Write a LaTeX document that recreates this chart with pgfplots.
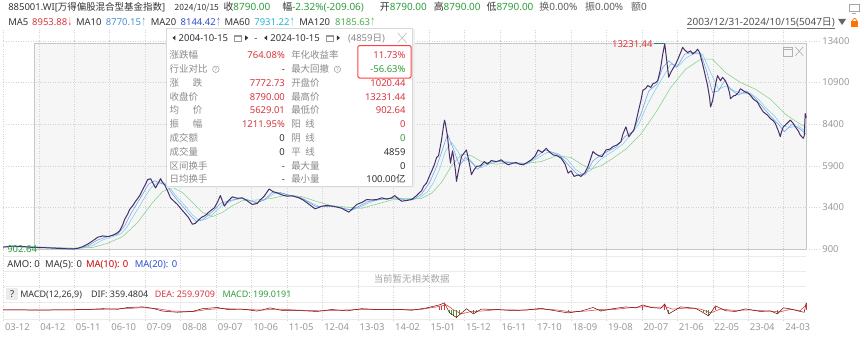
\documentclass[border=0pt]{standalone}
\usepackage{pgfplots}
\pgfplotsset{compat=1.18}
\usepackage{graphicx}
\usepackage{fontspec}
\setmainfont{Noto Sans}
\newfontfamily\cjk{Noto Sans CJK SC}
\newcommand\zh[1]{{\cjk #1}}
\newcommand\dnarr{\hspace{0.6pt}\scalebox{0.45}[0.95]{\cjk ↓}}
\newcommand\uparr{\hspace{0.6pt}\scalebox{0.45}[0.95]{\cjk ↑}}
\definecolor{txt}{HTML}{333333}
\definecolor{lbl}{HTML}{8A8A8A}
\definecolor{tickc}{HTML}{9A9A9A}
\definecolor{upred}{HTML}{D9363E}
\definecolor{dngreen}{HTML}{2E9E3E}
\definecolor{ma10c}{HTML}{4A90D9}
\definecolor{ma20c}{HTML}{2F4FD6}
\definecolor{ma60c}{HTML}{27B3D3}
\definecolor{ma120c}{HTML}{4CAF50}
\definecolor{gridc}{HTML}{D2D2D2}
\definecolor{boxfill}{HTML}{F6F6F6}
\definecolor{boxline}{HTML}{C6C6C6}
\definecolor{pricec}{HTML}{46306A}
\definecolor{ma20l}{HTML}{6E9BE8}
\definecolor{ma60l}{HTML}{7CCFE8}
\definecolor{ma120l}{HTML}{86D08A}
\definecolor{panelline}{HTML}{EBEBEB}
\newcommand\fs{\fontsize{9.5}{11}\selectfont}
\newcommand\fh{\fontsize{10}{12}\selectfont}
\pgfplotsset{
  pxaxis/.style={anchor=south west, scale only axis, width=806pt, xmin=0, xmax=806,
    axis line style={draw=none}, major tick length=0pt, scaled y ticks=false, scaled x ticks=false},
  xgridticks/.style={xtick={0.2,35.8,71.4,107,142.6,178.2,213.8,249.4,285,320.6,356.2,391.8,427.4,463,498.6,534.2,569.8,605.4,641,676.6,712.2,747.8,783.4}},
}
\begin{document}
\begin{tikzpicture}[x=1pt,y=1pt,
  t/.style={anchor=west, inner sep=0pt, text height=6.8pt, text depth=0pt, font=\fs},
  tr/.style={anchor=east, inner sep=0pt, text height=6.8pt, text depth=0pt, font=\fs},
  gridl/.style={gridc, line width=0.5pt, dash pattern=on 1pt off 1.5pt}]
\fill[white] (0pt,0pt) rectangle (865pt,338pt);
% lower panel horizontal lines
\foreach \yy in {81,66,51,35,18} {\draw[panelline, line width=0.5pt] (0pt,\yy pt) -- (806pt,\yy pt);}
% ---------------- selection box (background)
\begin{axis}[pxaxis, at={(0pt,88pt)}, height=209pt, ymin=900, ymax=13400, hide axis]
\fill[boxfill] (axis cs:31,902.64) rectangle (axis cs:806,13231.44);
\addplot[draw=none] coordinates {(0,900)};
\end{axis}
% ---------------- main price axis
\begin{axis}[pxaxis, at={(0pt,88pt)}, height=209pt,
  ymin=900, ymax=13400, clip=false, xgridticks, xticklabels={},
  ytick={900,3400,5900,8400,10900,13400},
  yticklabels={900,3400,5900,8400,10900,13400},
  yticklabel pos=right,
  yticklabel style={anchor=west, inner sep=0pt, xshift=16pt, font=\fs, text=tickc},
  xmajorgrids, ymajorgrids, grid style={gridl},
]
\draw[boxline, line width=0.7pt] (axis cs:31,902.64) rectangle (axis cs:806,13231.44);
\pgfplotsinvokeforeach{0.2,35.8,71.4,107,142.6,178.2,213.8,249.4,285,320.6,356.2,391.8,427.4,463,498.6,534.2,569.8,605.4,641,676.6,712.2,747.8,783.4}{\draw[gridl] (axis cs:#1,13400) -- ++(0pt,11pt);}
\pgfplotsinvokeforeach{900,3400,5900,8400,10900,13400}{\draw[gridl] (axis cs:806,#1) -- ++(14pt,0pt);}
% MA120
\addplot[ma120l, line width=0.55pt] coordinates {
(10,1050)(30,1040)(50,1000)(70,960)(90,1000)(105,1250)(120,1650)(135,2500)(150,3700)(160,4350)(170,4600)(180,4300)(190,3700)(200,3100)(210,2850)(220,3100)(230,3500)(240,3800)(255,3850)(270,3950)(285,4150)(300,4050)(315,3750)(330,3500)(345,3420)(360,3350)(375,3600)(390,3850)(405,3930)(420,3950)(430,4250)(440,4900)(450,5900)(460,6600)(470,6500)(480,6150)(495,6000)(510,6100)(525,6050)(540,6150)(555,6500)(570,6400)(580,6000)(590,5700)(600,5900)(612,6350)(625,6900)(640,7800)(655,9100)(670,10600)(685,11700)(700,12300)(712,12300)(725,11500)(740,10900)(755,10500)(770,9900)(785,9000)(800,8400)(806,8200)};
% MA60
\addplot[ma60l, line width=0.55pt] coordinates {
(10,1040)(20,1040)(30,1030)(40,1010)(50,985)(60,960)(70,930)(80,960)(90,1120)(100,1450)(110,1650)(118,1800)(124,2200)(130,2800)(136,3400)(142,4000)(148,4550)(154,4850)(160,4950)(166,4700)(172,4200)(178,3800)(184,3400)(190,2950)(196,2650)(202,2650)(208,2850)(214,3200)(220,3550)(226,3700)(232,3850)(240,3950)(248,3800)(256,3700)(264,3900)(272,4250)(280,4250)(290,4100)(300,3950)(310,3650)(318,3450)(326,3480)(334,3460)(342,3350)(350,3250)(358,3420)(366,3650)(374,3820)(382,3900)(390,3950)(400,3930)(410,3860)(418,3980)(426,4350)(432,4900)(438,5700)(444,6800)(450,7300)(456,6800)(462,6200)(468,6300)(474,5900)(480,5800)(488,6000)(496,6150)(506,6150)(516,6050)(526,6030)(536,6350)(546,6700)(556,6650)(566,6300)(574,5700)(582,5400)(590,5650)(598,6200)(606,6550)(614,6850)(622,7200)(630,7800)(638,8400)(646,9500)(654,10400)(662,11200)(670,12000)(678,11900)(686,12400)(694,12650)(702,12600)(710,11500)(718,10500)(726,10700)(734,10400)(742,10250)(750,10250)(758,9900)(766,9350)(774,8900)(782,8300)(790,8200)(798,8300)(806,7950)};
% MA20
\addplot[ma20l, line width=0.55pt] coordinates {
(0,1030)(20,1040)(40,995)(60,945)(75,930)(85,1100)(95,1450)(105,1660)(115,1800)(122,2300)(128,3000)(134,3600)(140,4200)(146,4800)(152,5000)(158,4850)(164,4750)(170,4200)(176,3750)(182,3350)(188,2900)(194,2550)(200,2650)(206,2950)(212,3250)(218,3650)(224,3750)(230,3850)(238,3950)(246,3850)(254,3680)(262,3850)(270,4300)(278,4300)(288,4100)(298,4000)(306,3750)(314,3450)(322,3450)(332,3480)(342,3320)(350,3250)(358,3500)(366,3750)(376,3860)(386,3940)(396,3990)(404,3830)(412,3880)(420,4200)(428,4900)(434,5700)(440,6700)(446,7800)(452,6900)(458,5900)(464,6400)(470,6100)(476,5700)(484,6050)(494,6170)(504,6120)(514,6050)(524,6000)(534,6400)(544,6850)(552,6700)(560,6450)(568,5900)(576,5400)(584,5350)(592,6200)(600,6550)(608,6800)(616,7050)(624,7650)(632,7950)(640,9000)(648,10400)(656,10800)(662,11800)(668,12200)(676,11800)(684,12600)(692,12700)(700,12650)(706,11600)(712,10300)(718,10400)(724,11000)(730,10500)(738,10150)(746,10380)(754,10000)(762,9450)(770,8900)(778,8400)(784,7950)(792,8400)(800,8100)(806,7800)};
% price
\addplot[pricec, line width=1pt, line join=round] coordinates {
(0,1020)(10,1080)(20,1050)(30,1000)(40,990)(50,960)(60,930)(70,905)(75,950)(80,1050)(85,1200)(90,1400)(95,1614)(100,1690)(105,1650)(110,1730)(114,1850)(117,1990)(120,2350)(122,2685)(125,3000)(127,3280)(130,3500)(133,3775)(137,4100)(140,4470)(143,4800)(145,5066)(148,5125)(150,4900)(153,4570)(156,4900)(158,5125)(160,4900)(162,4770)(165,4400)(168,3975)(171,3800)(175,3580)(178,3350)(182,3080)(186,2800)(190,2390)(193,2450)(195,2585)(199,2800)(203,2925)(207,3150)(212,3380)(215,3700)(218,4115)(222,3480)(226,3800)(230,4035)(235,3950)(240,3975)(245,3800)(250,3580)(255,3640)(258,3850)(262,4075)(267,4510)(271,4350)(275,4275)(280,4150)(285,4075)(290,4100)(297,3975)(301,3850)(305,3680)(309,3500)(313,3320)(317,3400)(320,3480)(325,3520)(330,3480)(335,3420)(340,3350)(343,3240)(347,3120)(351,3350)(355,3580)(360,3700)(365,3875)(370,3850)(375,3875)(380,3975)(385,3900)(390,3975)(393,4115)(397,3900)(400,3775)(405,3820)(410,3875)(415,4115)(418,4300)(420,4400)(422,4670)(425,4870)(428,5300)(431,5700)(433,6000)(435,6400)(437,6500)(440,7450)(442,8300)(443,8640)(444,8400)(446,7650)(448,6500)(449,6065)(451,6800)(452,6460)(454,5600)(455,4970)(457,5600)(460,6460)(463,6700)(465,6850)(467,6300)(469,5700)(470,5365)(472,5600)(475,5860)(479,5900)(483,6155)(486,6000)(490,6215)(495,6150)(500,6255)(503,6100)(507,5960)(511,6050)(515,6095)(518,6000)(522,5960)(526,6100)(530,6255)(534,6500)(537,6850)(541,6700)(545,6950)(548,6750)(552,6555)(556,6500)(560,6360)(564,6000)(567,5460)(570,5600)(573,5265)(577,5350)(580,5265)(584,5500)(587,5860)(590,6400)(592,6755)(595,6600)(598,6500)(601,6450)(605,6850)(609,6900)(612,7050)(616,7150)(620,7345)(622,7800)(625,8240)(628,7650)(631,7900)(633,8040)(635,8500)(637,9035)(640,9800)(642,10420)(645,10550)(647,10720)(650,10600)(652,10820)(655,10900)(657,11020)(659,11500)(660,11810)(662,12600)(664,13231)(666,12210)(668,11215)(670,11500)(673,11810)(675,12000)(678,12410)(680,12700)(682,13010)(684,12850)(687,12700)(690,12800)(692,12610)(695,12750)(697,12900)(699,12700)(702,12010)(704,11500)(707,10720)(709,10000)(710,9430)(712,9800)(713,10125)(715,10800)(717,11315)(720,11000)(722,11215)(725,11000)(727,10720)(729,10300)(730,9925)(733,10100)(735,10125)(738,10300)(740,10525)(743,10400)(745,10325)(748,10250)(750,10125)(753,9900)(757,9725)(760,9400)(763,9130)(767,8950)(770,8735)(773,8600)(775,8440)(778,8000)(780,7650)(781,7900)(783,8240)(786,8400)(790,8640)(793,8450)(795,8240)(798,8000)(800,7745)(803,7550)(804,7700)(805,9035)(806,8790)};
\draw[teal!70!gray, line width=0.6pt] (axis cs:653,13231.44) -- (axis cs:664,13231.44);
\node[tr, text=upred] at (axis cs:652,13231.44) {13231.44};
\node[t, text=dngreen] at (axis cs:4,902.64) {902.64};
\end{axis}
% ---------------- lower grid axis with date labels
\begin{axis}[pxaxis, at={(0pt,16pt)}, height=72pt, ymin=0, ymax=1, xgridticks,
  xticklabels={03-12,04-12,05-11,06-10,07-09,08-08,09-07,10-06,11-05,12-04,13-03,14-02,15-01,15-12,16-11,17-10,18-09,19-08,20-07,21-06,22-05,23-04,24-03},
  xticklabel style={anchor=north west, inner sep=0pt, text height=6.8pt, text depth=0pt, yshift=-3pt, xshift=1.5pt, font=\fs, text=tickc},
  ytick=\empty, xmajorgrids, grid style={gridl},
]
\addplot[draw=none] coordinates {(0,0)};
\end{axis}
% ---------------- MACD axis
\begin{axis}[pxaxis, at={(0pt,17pt)}, height=20pt, ymin=-500, ymax=500, hide axis, clip=false]
\addplot[ycomb, dngreen, line width=0.8pt, no markers] coordinates {(448,-150)(450,-250)(452,-320)(455,-420)(458,-220)(472,-160)(475,-100)(567,-120)(600,-60)(668,-160)(703,-100)(706,-180)(708,-260)(777,-150)(804,-80)};
\addplot[ycomb, upred, line width=0.8pt, no markers] coordinates {(438,120)(440,200)(443,300)(642,180)(664,250)(715,150)(806,350)};
\addplot[upred, line width=0.5pt] coordinates {(0,0)(60,0)(100,30)(125,70)(140,110)(155,60)(170,-60)(190,-90)(205,20)(220,70)(240,30)(260,-10)(275,40)(300,-20)(320,-50)(340,-10)(360,20)(380,30)(400,10)(420,30)(435,150)(445,250)(452,0)(460,-200)(470,-80)(480,-60)(495,10)(520,-10)(540,40)(555,0)(570,-100)(585,-60)(600,20)(615,30)(630,110)(645,160)(655,130)(665,150)(672,40)(685,90)(700,40)(710,-150)(720,40)(735,-30)(750,0)(765,-50)(780,-100)(790,30)(800,-40)(806,260)};
\addplot[black!55!red, line width=0.5pt] coordinates {(0,0)(40,-10)(80,10)(100,60)(115,30)(125,120)(140,150)(150,80)(160,-60)(175,-120)(190,-80)(200,60)(215,120)(225,20)(240,40)(255,-60)(268,100)(280,-30)(300,-40)(315,-80)(330,20)(345,-50)(360,60)(375,20)(395,30)(410,-20)(425,100)(438,250)(443,350)(448,-150)(455,-380)(465,60)(472,-200)(480,40)(495,20)(510,-30)(525,-10)(540,80)(552,-30)(567,-150)(580,-60)(592,120)(600,-60)(612,60)(625,150)(635,100)(642,250)(650,120)(660,80)(664,300)(668,-200)(680,150)(695,80)(703,-150)(708,-300)(715,200)(725,-40)(735,-80)(745,50)(760,-80)(770,-50)(777,-200)(783,100)(790,50)(800,-80)(804,-120)(806,359)};
\end{axis}
% ---------------- window icon in main box
\draw[black!30, line width=0.6pt] (783pt,281pt) rectangle (792pt,291pt);
\draw[black!30, line width=0.6pt] (783pt,289pt) -- (792pt,289pt);
\draw[black!30, line width=0.6pt] (795pt,291pt) -- (803pt,282pt) (795pt,282pt) -- (803pt,291pt);
% ---------------- top header lines
\node[t, text=txt] at (5pt,331pt) {885001.WI[\zh{万得偏股混合型基金指数}]};
\node[t, text=txt, font=\cjk\fontsize{8.5}{10}\selectfont] at (172pt,331pt) {2024/10/15};
\node[t, text=txt, font=\fh] at (221pt,331pt) {\zh{收}\textcolor{dngreen}{8790.00}};
\node[t, text=txt, font=\fh] at (280pt,331pt) {\zh{幅}\textcolor{dngreen}{-2.32\%(-209.06)}};
\node[t, text=txt, font=\fh] at (378pt,331pt) {\zh{开}\textcolor{dngreen}{8790.00}};
\node[t, text=txt, font=\fh] at (432pt,331pt) {\zh{高}\textcolor{dngreen}{8790.00}};
\node[t, text=txt, font=\fh] at (485pt,331pt) {\zh{低}\textcolor{dngreen}{8790.00}};
\node[t, text=txt!80, font=\fh] at (538pt,331pt) {\zh{换}0.00\%};
\node[t, text=txt!80, font=\fh] at (584pt,331pt) {\zh{振}0.00\%};
\node[t, text=txt!80, font=\fh] at (630pt,331pt) {\zh{额}0};
\node[t, text=txt] at (5pt,316pt) {MA5};
\node[t, text=upred] at (29pt,316pt) {8953.88\dnarr};
\node[t, text=txt] at (73pt,316pt) {MA10};
\node[t, text=ma10c] at (103pt,316pt) {8770.15\uparr};
\node[t, text=txt] at (148pt,316pt) {MA20};
\node[t, text=ma20c] at (178pt,316pt) {8144.42\uparr};
\node[t, text=txt] at (222pt,316pt) {MA60};
\node[t, text=ma60c] at (252pt,316pt) {7931.22\uparr};
\node[t, text=txt] at (297pt,316pt) {MA120};
\node[t, text=ma120c] at (333pt,316pt) {8185.63\uparr};
\node[tr, text=txt!85, font=\fh] (rng) at (835pt,316pt) {2003/12/31-2024/10/15(5047\zh{日})};
\draw[txt!70, line width=0.5pt] ([yshift=-2.3pt]rng.south west) -- ([yshift=-2.3pt]rng.south east);
\fill[txt!75] (838pt,319pt) -- (846pt,319pt) -- (842pt,313pt) -- cycle;
\draw[black!35, line width=0.6pt] (849pt,327pt) rectangle (859pt,334pt);
\draw[black!35, line width=0.6pt] (852pt,325pt) -- (856pt,325pt);
\fill[orange!90!red] (851pt,311pt) rectangle (858pt,317pt);
\draw[orange!90!red, line width=0.8pt] (852.5pt,317pt) arc (180:0:2pt and 2.5pt);
% ---------------- tooltip
\fill[black!6] (165.5pt,149.5pt) rectangle (413pt,309pt);
\fill[white] (164pt,151pt) rectangle (411pt,310pt);
\draw[black!15, line width=0.5pt] (164pt,151pt) rectangle (411pt,310pt);
% header
\fill[txt] (170pt,300pt) -- (173pt,302.5pt) -- (173pt,297.5pt) -- cycle;
\node[t, text=txt] at (176pt,300pt) {2004-10-15};
\draw[black!40, line width=0.5pt] (232pt,296.5pt) rectangle (239pt,303pt) (232pt,301.5pt) -- (239pt,301.5pt);
\fill[txt] (246pt,300pt) -- (243pt,302.5pt) -- (243pt,297.5pt) -- cycle;
\node[t, text=txt] at (252pt,300pt) {-};
\fill[txt] (262pt,300pt) -- (265pt,302.5pt) -- (265pt,297.5pt) -- cycle;
\node[t, text=txt] at (268pt,300pt) {2024-10-15};
\draw[black!40, line width=0.5pt] (324pt,296.5pt) rectangle (331pt,303pt) (324pt,301.5pt) -- (331pt,301.5pt);
\fill[txt] (338pt,300pt) -- (335pt,302.5pt) -- (335pt,297.5pt) -- cycle;
\node[t, text=lbl] at (346pt,300pt) {(4859\zh{日})};
\draw[black!25, line width=0.6pt] (396pt,295pt) -- (405pt,305pt) (396pt,305pt) -- (405pt,295pt);
% rows
\node[t, text=lbl] at (167pt,282.3pt) {\zh{涨跌幅}};
\node[tr, text=upred] at (283pt,282.3pt) {764.08\%};
\node[t, text=lbl] at (289pt,282.3pt) {\zh{年化收益率}};
\node[tr, text=upred] at (404pt,282.3pt) {11.73\%};
\node[t, text=lbl] at (167pt,268.5pt) {\zh{行业对比}};
\draw[lbl, line width=0.4pt] (213.5pt,268.5pt) circle (3.3pt);
\node[inner sep=0pt, font=\fontsize{5}{5}\selectfont, text=lbl] at (213.5pt,268.5pt) {?};
\node[tr, text=txt] at (283pt,268.5pt) {-};
\node[t, text=lbl] at (289pt,268.5pt) {\zh{最大回撤}};
\draw[lbl, line width=0.4pt] (335.5pt,268.5pt) circle (3.3pt);
\node[inner sep=0pt, font=\fontsize{5}{5}\selectfont, text=lbl] at (335.5pt,268.5pt) {?};
\node[tr, text=dngreen] at (404pt,268.5pt) {-56.63\%};
\node[t, text=lbl] at (167pt,254.5pt) {\zh{涨\hspace{1.45em}跌}};
\node[tr, text=upred] at (283pt,254.5pt) {7772.73};
\node[t, text=lbl] at (289pt,254.5pt) {\zh{开盘价}};
\node[tr, text=upred] at (404pt,254.5pt) {1020.44};
\node[t, text=lbl] at (167pt,240.5pt) {\zh{收盘价}};
\node[tr, text=upred] at (283pt,240.5pt) {8790.00};
\node[t, text=lbl] at (289pt,240.5pt) {\zh{最高价}};
\node[tr, text=upred] at (404pt,240.5pt) {13231.44};
\node[t, text=lbl] at (167pt,227pt) {\zh{均\hspace{1.45em}价}};
\node[tr, text=upred] at (283pt,227pt) {5629.01};
\node[t, text=lbl] at (289pt,227pt) {\zh{最低价}};
\node[tr, text=upred] at (404pt,227pt) {902.64};
\node[t, text=lbl] at (167pt,213.5pt) {\zh{振\hspace{1.45em}幅}};
\node[tr, text=upred] at (283pt,213.5pt) {1211.95\%};
\node[t, text=lbl] at (289pt,213.5pt) {\zh{阳\hspace{0.5em}线}};
\node[tr, text=upred] at (404pt,213.5pt) {0};
\node[t, text=lbl] at (167pt,199.5pt) {\zh{成交额}};
\node[tr, text=txt] at (283pt,199.5pt) {0};
\node[t, text=lbl] at (289pt,199.5pt) {\zh{阴\hspace{0.5em}线}};
\node[tr, text=dngreen] at (404pt,199.5pt) {0};
\node[t, text=lbl] at (167pt,185.5pt) {\zh{成交量}};
\node[tr, text=txt] at (283pt,185.5pt) {0};
\node[t, text=lbl] at (289pt,185.5pt) {\zh{平\hspace{0.5em}线}};
\node[tr, text=txt] at (404pt,185.5pt) {4859};
\node[t, text=lbl] at (167pt,171.5pt) {\zh{区间换手}};
\node[tr, text=txt] at (283pt,171.5pt) {-};
\node[t, text=lbl] at (289pt,171.5pt) {\zh{最大量}};
\node[tr, text=txt] at (404pt,171.5pt) {0};
\node[t, text=lbl] at (167pt,158pt) {\zh{日均换手}};
\node[tr, text=txt] at (283pt,158pt) {-};
\node[t, text=lbl] at (289pt,158pt) {\zh{最小量}};
\node[tr, text=txt] at (404pt,158pt) {100.00\zh{亿}};
\draw[red!75!white, line width=1pt, rounded corners=2pt] (356pt,292.3pt) rectangle (409.5pt,259.7pt);
% ---------------- lower panels text
\node[t, text=txt] at (4pt,73pt) {AMO: 0};
\node[t, text=txt] at (42pt,73pt) {MA(5): 0};
\node[t, text=red!80!black] at (83pt,73pt) {MA(10): 0};
\node[t, text=ma20c] at (132pt,73pt) {MA(20): 0};
\node[anchor=center, inner sep=0pt, text height=6.8pt, text depth=0pt, font=\fs, text=black!35] at (410pt,58pt) {\zh{当前暂无相关数据}};
\fill[black!8] (3pt,37pt) rectangle (15pt,49pt);
\node[anchor=center, inner sep=0pt, text height=6.8pt, text depth=0pt, font=\fs, text=txt] at (9pt,43pt) {?};
\node[t, text=txt, font=\fontsize{9}{11}\selectfont] at (17pt,43pt) {MACD(12,26,9)};
\node[t, text=txt, font=\fontsize{9}{11}\selectfont] at (88pt,43pt) {DIF: 359.4804};
\node[t, text=upred, font=\fontsize{9}{11}\selectfont] at (152pt,43pt) {DEA: 259.9709};
\node[t, text=dngreen, font=\fontsize{9}{11}\selectfont] at (220pt,43pt) {MACD: 199.0191};
\end{tikzpicture}
\end{document}
